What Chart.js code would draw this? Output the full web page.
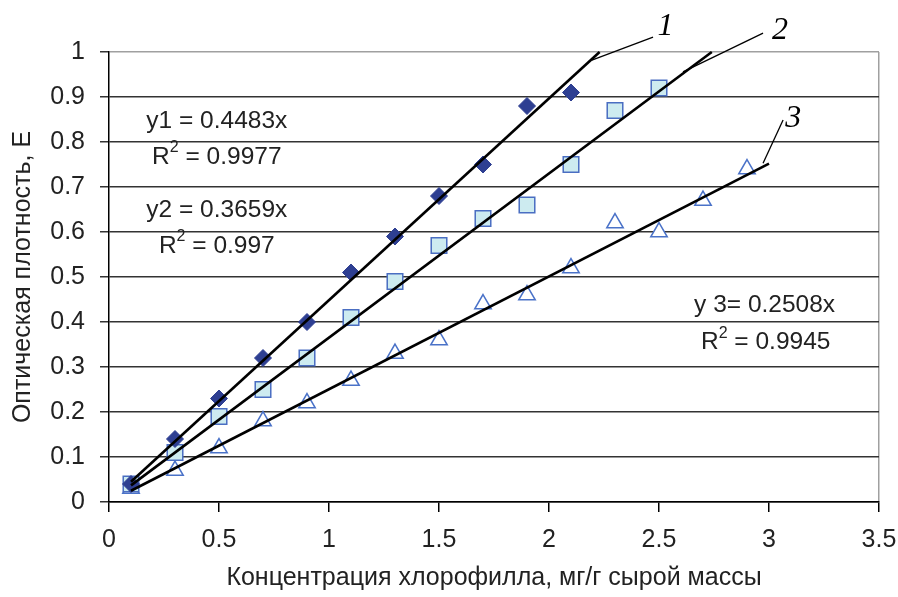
<!DOCTYPE html>
<html>
<head>
<meta charset="utf-8">
<script src="https://cdn.jsdelivr.net/npm/chart.js@4"></script>
<style>
  html, body { margin: 0; padding: 0; background: #fff; }
  #wrap { width: 898px; height: 597px; }
</style>
</head>
<body>
<div id="wrap"><canvas id="chart"></canvas></div>
<script>
// measured points
const X1 = [0.1, 0.3, 0.5, 0.7, 0.9, 1.1, 1.3, 1.5, 1.7, 1.9, 2.1];
const Y1 = [0.04, 0.14, 0.23, 0.32, 0.40, 0.51, 0.59, 0.68, 0.75, 0.88, 0.91];
const X2 = [0.1, 0.3, 0.5, 0.7, 0.9, 1.1, 1.3, 1.5, 1.7, 1.9, 2.1, 2.3, 2.5];
const Y2 = [0.04, 0.11, 0.19, 0.25, 0.32, 0.41, 0.49, 0.57, 0.63, 0.66, 0.75, 0.87, 0.92];
const X3 = [0.1, 0.3, 0.5, 0.7, 0.9, 1.1, 1.3, 1.5, 1.7, 1.9, 2.1, 2.3, 2.5, 2.7, 2.9];
const Y3 = [0.03, 0.07, 0.12, 0.18, 0.22, 0.27, 0.33, 0.36, 0.44, 0.46, 0.52, 0.62, 0.60, 0.67, 0.74];

// trend line end points
const T1X = [0.1, 2.23];
const T1Y = [0.045, 1.0];
const T2X = [0.1, 2.74];
const T2Y = [0.037, 1.0];
const T3X = [0.1, 3.0];
const T3Y = [0.025, 0.752];

// leader lines to curve numbers
const L1X = [2.195, 2.473];
const L1Y = [0.982, 1.033];
const L2X = [2.609, 2.973];
const L2Y = [0.956, 1.042];
const L3X = [2.973, 3.064];
const L3Y = [0.753, 0.849];

const CURVE_LABELS = ["1", "2", "3"];
const EQUATIONS = ["y1 = 0.4483x", "R2 = 0.9977", "y2 = 0.3659x", "R2 = 0.997", "y 3= 0.2508x", "R2 = 0.9945"];

const X_TITLE = "Концентрация хлорофилла, мг/г сырой массы";
const Y_TITLE = "Оптическая плотность, Е";

const FONT = "'Liberation Sans', Arial, sans-serif";
const TEXT = "#222";

function pts(xs, ys) {
  return xs.map((x, i) => ({ x: x, y: ys[i] }));
}

function line(xs, ys, w) {
  return {
    type: "line",
    data: pts(xs, ys),
    borderColor: "#000",
    borderWidth: w,
    pointRadius: 0,
    fill: false,
    clip: false,
    order: 0,
  };
}

// where the texts go, in data units
const eqPos = [[0.49, 0.847], [0.49, 0.767], [0.49, 0.649], [0.49, 0.569], [2.98, 0.438], [2.985, 0.355]];
const numPos = [[2.53, 1.038], [3.05, 1.029], [3.11, 0.833]];

const textPlugin = {
  id: "texts",
  afterDatasetsDraw(chart) {
    const { ctx, scales } = chart;
    const xs = scales.x, ys = scales.y;
    const big = "24.5px " + FONT, small = "16px " + FONT;
    ctx.save();
    ctx.fillStyle = TEXT;
    ctx.textBaseline = "middle";
    EQUATIONS.forEach((t, i) => {
      const px = xs.getPixelForValue(eqPos[i][0]);
      const py = ys.getPixelForValue(eqPos[i][1]);
      if (t.startsWith("R2")) {
        const rest = t.slice(2);
        ctx.font = big;
        const wR = ctx.measureText("R").width;
        const wRest = ctx.measureText(rest).width;
        ctx.font = small;
        const w2 = ctx.measureText("2").width;
        const sx = px - (wR + w2 + wRest) / 2;
        ctx.textAlign = "left";
        ctx.font = big;
        ctx.fillText("R", sx, py);
        ctx.fillText(rest, sx + wR + w2, py);
        ctx.font = small;
        ctx.fillText("2", sx + wR, py - 9);
      } else {
        ctx.font = big;
        ctx.textAlign = "center";
        ctx.fillText(t, px, py);
      }
    });
    ctx.fillStyle = "#000";
    ctx.font = "italic 32px 'Liberation Serif', 'Times New Roman', serif";
    ctx.textAlign = "center";
    ctx.textBaseline = "alphabetic";
    CURVE_LABELS.forEach((t, i) => {
      ctx.fillText(t, xs.getPixelForValue(numPos[i][0]), ys.getPixelForValue(numPos[i][1]));
    });
    ctx.restore();
  },
};

new Chart(document.getElementById("chart"), {
  type: "scatter",
  data: {
    datasets: [
      line(T1X, T1Y, 2.6),
      line(T2X, T2Y, 2.6),
      line(T3X, T3Y, 2.6),
      line(L1X, L1Y, 1.3),
      line(L2X, L2Y, 1.3),
      line(L3X, L3Y, 1.3),
      {
        data: pts(X1, Y1),
        pointStyle: "rectRot",
        pointRadius: 8.5,
        backgroundColor: "#2E3F92",
        borderColor: "#2E3F92",
        borderWidth: 1,
        order: 1,
      },
      {
        data: pts(X2, Y2),
        pointStyle: "rect",
        pointRadius: 11,
        backgroundColor: "#CDEBF0",
        borderColor: "#4A6EC2",
        borderWidth: 1.5,
        order: 1,
      },
      {
        data: pts(X3, Y3),
        pointStyle: "triangle",
        pointRadius: 9.5,
        backgroundColor: "#fff",
        borderColor: "#4A72C8",
        borderWidth: 1.5,
        order: 1,
      },
    ],
  },
  options: {
    responsive: true,
    maintainAspectRatio: false,
    animation: false,
    layout: { padding: { left: 0, top: 52, right: 19, bottom: 0 } },
    plugins: { legend: { display: false }, tooltip: { enabled: false } },
    scales: {
      x: {
        type: "linear",
        min: 0,
        max: 3.5,
        afterFit: (s) => { s.height = 95; s.paddingLeft = 0; s.paddingRight = 0; },
        ticks: { stepSize: 0.5, color: TEXT, font: { family: FONT, size: 25 }, padding: 13, maxRotation: 0,
          callback: (v) => String(Math.round(v * 10) / 10) },
        grid: {
          drawOnChartArea: true,
          color: (c) => (c.tick && c.tick.value === 3.5 ? "#a0a0a0" : "rgba(0,0,0,0)"),
          tickColor: "#000",
          tickLength: 10,
          lineWidth: 1.5,
        },
        border: { color: "#000", width: 1.5 },
        title: { display: true, text: X_TITLE, color: TEXT, font: { family: FONT, size: 25 }, padding: { top: 0, bottom: 4 } },
      },
      y: {
        type: "linear",
        min: 0,
        max: 1,
        afterFit: (s) => { s.width = 109; s.paddingTop = 0; s.paddingBottom = 0; },
        ticks: { stepSize: 0.1, color: TEXT, font: { family: FONT, size: 25 }, padding: 15,
          callback: (v) => String(Math.round(v * 10) / 10) },
        grid: {
          color: (c) => (c.tick && c.tick.value === 1 ? "#a0a0a0" : "#333"),
          tickColor: "#333",
          tickLength: 9,
          lineWidth: 1.5,
        },
        border: { color: "#000", width: 1.5 },
        title: { display: true, text: Y_TITLE, color: TEXT, font: { family: FONT, size: 25 }, padding: { top: 8, bottom: 0 } },
      },
    },
  },
  plugins: [textPlugin],
});
</script>
</body>
</html>
